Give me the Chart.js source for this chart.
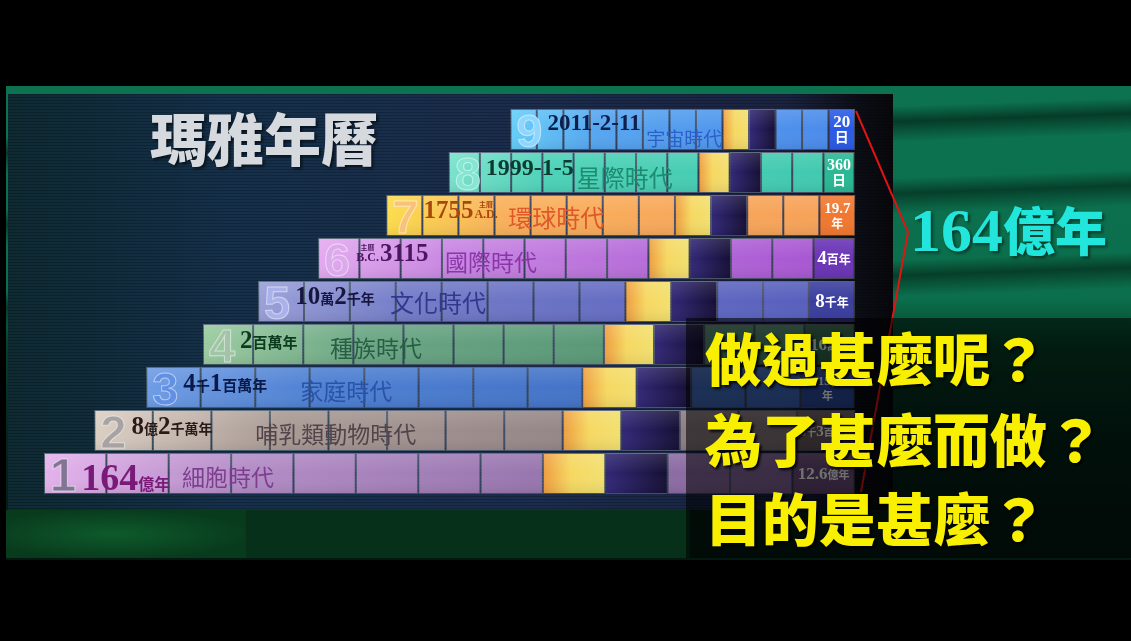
<!DOCTYPE html>
<html>
<head>
<meta charset="utf-8">
<script src="https://cdn.jsdelivr.net/npm/chart.js@4.4.1/dist/chart.umd.min.js"></script>
<style>
html, body { margin: 0; padding: 0; background: #000; width: 1131px; height: 641px; overflow: hidden; }
#stage { position: relative; width: 1131px; height: 641px; }
.abs { position: absolute; }
#video {
  left: 6px; top: 86px; width: 1125px; height: 474px;
  background:
    linear-gradient(178deg, rgba(0,0,0,0) 0%, rgba(0,0,0,0) 10%, rgba(0,15,8,0.55) 13%, rgba(0,0,0,0) 17%,
      rgba(0,0,0,0) 24%, rgba(0,15,8,0.5) 27%, rgba(0,0,0,0) 31%, rgba(0,0,0,0) 40%, rgba(0,15,8,0.5) 43%, rgba(0,0,0,0) 47%),
    linear-gradient(180deg, #0c7250 0%, #0b6e4c 45%, #064028 55%, #04241a 75%, #03180f 100%);
}
#bottomLeft { left: 6px; top: 510px; width: 240px; height: 48px; background: radial-gradient(ellipse at 45% 50%, #0e5a2c, #083a1c 75%); }
#bottomMid { left: 246px; top: 510px; width: 444px; height: 48px; background: #06301a; }
#panel {
  left: 8px; top: 94px; width: 885px; height: 416px;
  background:
    repeating-linear-gradient(180deg, rgba(0,0,0,0.22) 0 1px, rgba(0,0,0,0) 1px 3px),
    linear-gradient(90deg, #0e2a32 0%, #15304a 25%, #1b2c4c 60%, #1a2240 88%, #0c0e16 96%, #08080c 100%);
}
#title { left: 150px; top: 106px; font: 900 57px/60px "Noto Sans CJK TC", sans-serif; color: #d6dade; text-shadow: 2px 2px 3px rgba(0,0,0,0.6); white-space: nowrap; }
#total { left: 910px; top: 196px; color: #22e6dc; white-space: nowrap; text-shadow: 2px 2px 3px rgba(0,0,0,0.5); }
#total .num { font: bold 62px/66px "Liberation Serif", serif; }
#total .cjk { font: 900 52px/66px "Noto Sans CJK TC", sans-serif; }
#overlay { left: 686px; top: 318px; width: 445px; height: 240px; background: rgba(0,0,0,0.56); }
.ask { left: 705px; font: 900 57px/60px "Noto Sans CJK TC", sans-serif; color: #f8f000; white-space: nowrap; text-shadow: 2px 2px 3px #000; }
</style>
</head>
<body>
<div id="stage">
  <div id="video" class="abs"></div>
  <div id="bottomLeft" class="abs"></div>
  <div id="bottomMid" class="abs"></div>
  <div id="panel" class="abs"></div>
  <div id="title" class="abs">瑪雅年曆</div>
  <canvas id="chart" class="abs" width="1131" height="641" style="left:0;top:0;"></canvas>
  <svg class="abs" width="1131" height="641" style="left:0;top:0;">
    <polyline points="856,111 908,232 861,492" fill="none" stroke="#e01414" stroke-width="2"/>
  </svg>
  <div id="total" class="abs"><span class="num">164</span><span class="cjk">億年</span></div>
  <div id="overlay" class="abs"></div>
  <div class="abs ask" style="top:326px;">做過甚麼呢？</div>
  <div class="abs ask" style="top:407px;">為了甚麼而做？</div>
  <div class="abs ask" style="top:486px;">目的是甚麼？</div>
</div>

<script>
// rows from top (9) to bottom (1); x axis in % of the longest row
const rowLabels = ['9', '8', '7', '6', '5', '4', '3', '2', '1'];
const rowStart = [57.5, 49.9, 42.2, 33.8, 26.4, 19.6, 12.6, 6.2, 0];
const cellWidth = [3.27, 3.85, 4.45, 5.09, 5.66, 6.18, 6.72, 7.22, 7.69];
const eraNames = ['宇宙時代', '星際時代', '環球時代', '國際時代', '文化時代', '種族時代', '家庭時代', '哺乳類動物時代', '細胞時代'];
const startDates = [
  [['2011-2-11', 23]],
  [['1999-1-5', 24]],
  [['1755', 25], ['主曆|A.D.', 'sup']],
  [['主曆|B.C.', 'sup'], ['3115', 25]],
  [['10', 25], ['萬', 14], ['2', 25], ['千年', 14]],
  [['2', 25], ['百萬年', 15]],
  [['4', 25], ['千', 14], ['1', 25], ['百萬年', 15]],
  [['8', 25], ['億', 14], ['2', 25], ['千萬年', 14]],
  [['164', 38], ['億年', 16]]
];
const heavenLengths = [
  [[['20', 17]], [['日', 14]]],
  [[['360', 16]], [['日', 14]]],
  [[['19.7', 15]], [['年', 12]]],
  [[['4', 19], ['百年', 12]]],
  [[['8', 19], ['千年', 12]]],
  [[['16', 17], ['萬年', 11]]],
  [[['315萬', 13]], [['年', 11]]],
  [[['6', 15], ['千', 10], ['3', 15], ['百萬年', 10]]],
  [[['12.6', 17], ['億年', 11]]]
];

// styles
const rowGrad = [
  ['#66cef8', '#56a6f0', '#4a88ea'],
  ['#7ae2cc', '#4cd2b8', '#40c8ae'],
  ['#fcdc4c', '#f9b05c', '#f6a058'],
  ['#e4aaf0', '#c886e2', '#a452d0'],
  ['#9aa0d8', '#747cc8', '#545cbc'],
  ['#9ccca0', '#6aa684', '#488a6a'],
  ['#6e9ce4', '#4e80d2', '#3a66bc'],
  ['#dcd0c4', '#a89a94', '#82727a'],
  ['#e4b2ec', '#b28cc6', '#7c5e94']
];
const labelColor = ['#2a5ae6', '#2ab894', '#f07830', '#6a34b6', '#3a3e9e', '#2e6a4c', '#2a4aa0', '#6a5a60', '#6a4a7a'];
const digitColor = ['#8fd6ff', '#86e6d2', '#f8c27a', '#dcaaec', '#aab2ea', '#a4c4aa', '#6290e4', '#a8a2a2', '#807694'];
const dateColor = ['#0d1f4a', '#0a3a30', '#a8480e', '#4a1660', '#16163e', '#0c3a1c', '#0a1a48', '#2a1a18', '#7a1a78'];
const eraColor = ['#2c5fc8', '#1f8a70', '#e0582a', '#8a36a8', '#33388c', '#2a5e44', '#2a52a8', '#52444a', '#7e3e90'];
const eraSize = [19, 24, 24, 23, 24, 23, 23, 23, 23];
const eraOffset = [136, 128, 122, 127, 132, 127, 154, 161, 138];
const eraBase = [37, 35, 32, 33, 31, 33, 33, 33, 33];
const dateBase = [21, 23, 23, 23, 23, 24, 24, 24, 37];

const SERIF = '"Liberation Serif", "DejaVu Serif", "Noto Sans CJK TC", serif';
const CJK = '"Noto Sans CJK TC", "Noto Sans CJK SC", sans-serif';

function cellFill(k) {
  return ctx => {
    const chart = ctx.chart;
    const i = ctx.dataIndex;
    if (!chart.chartArea) return rowGrad[i][2];
    const xs = chart.scales.x;
    const c = chart.ctx;
    if (k === 12) return labelColor[i];
    if (k === 8 || k === 9) {
      const a = xs.getPixelForValue(rowStart[i] + k * cellWidth[i]);
      const b = xs.getPixelForValue(rowStart[i] + (k + 1) * cellWidth[i]);
      const g = c.createLinearGradient(a, 0, b, 0);
      if (k === 8) {
        g.addColorStop(0, '#ee9c40');
        g.addColorStop(0.45, '#f6d862');
        g.addColorStop(1, '#f2e070');
      } else {
        g.addColorStop(0, '#322878');
        g.addColorStop(1, '#150f34');
      }
      return g;
    }
    const x0 = xs.getPixelForValue(rowStart[i]);
    const x1 = xs.getPixelForValue(100);
    const g = c.createLinearGradient(x0, 0, x1, 0);
    g.addColorStop(0, rowGrad[i][0]);
    g.addColorStop(0.25, rowGrad[i][1]);
    g.addColorStop(1, rowGrad[i][2]);
    return g;
  };
}

function measureRuns(ctx, runs) {
  let w = 0;
  runs.forEach(r => {
    if (r[1] === 'sup') {
      const p = r[0].split('|');
      ctx.font = `bold 7px ${SERIF}`;
      const w1 = ctx.measureText(p[0]).width;
      ctx.font = `bold 12px ${SERIF}`;
      w += Math.max(w1, ctx.measureText(p[1]).width) + 2;
    } else {
      ctx.font = `bold ${r[1]}px ${SERIF}`;
      w += ctx.measureText(r[0]).width;
    }
  });
  return w;
}

function drawRuns(ctx, x, y, runs) {
  let cx = x;
  runs.forEach(r => {
    if (r[1] === 'sup') {
      const p = r[0].split('|');
      ctx.font = `bold 7px ${SERIF}`;
      const w1 = ctx.measureText(p[0]).width;
      ctx.font = `bold 12px ${SERIF}`;
      const w2 = ctx.measureText(p[1]).width;
      const w = Math.max(w1, w2);
      ctx.fillText(p[1], cx + 1, y);
      ctx.font = `bold 7px ${SERIF}`;
      ctx.fillText(p[0], cx + 1 + (w - w1) / 2, y - 11);
      cx += w + 2;
    } else {
      ctx.font = `bold ${r[1]}px ${SERIF}`;
      ctx.fillText(r[0], cx, y);
      cx += ctx.measureText(r[0]).width;
    }
  });
  return cx;
}

const rowText = {
  id: 'rowText',
  afterDatasetsDraw(chart) {
    const ctx = chart.ctx;
    const first = chart.getDatasetMeta(1).data;
    const last = chart.getDatasetMeta(13).data;
    ctx.save();
    ctx.textBaseline = 'alphabetic';
    rowLabels.forEach((lab, i) => {
      const el = first[i];
      const left = el.base;
      const top = el.y - el.height / 2;

      // soft highlight on the upper half of the row
      const hg = ctx.createLinearGradient(0, top, 0, top + el.height);
      hg.addColorStop(0, 'rgba(255,255,255,0.12)');
      hg.addColorStop(0.5, 'rgba(255,255,255,0)');
      hg.addColorStop(1, 'rgba(0,0,0,0.08)');
      ctx.fillStyle = hg;
      ctx.fillRect(left, top, last[i].x - left, el.height);

      // big row number
      ctx.font = 'bold 47px "Liberation Sans", "DejaVu Sans", sans-serif';
      ctx.fillStyle = digitColor[i];
      ctx.fillText(lab, left + 6, top + el.height - 3);
      ctx.strokeStyle = 'rgba(255,255,255,0.5)';
      ctx.lineWidth = 1;
      ctx.strokeText(lab, left + 6, top + el.height - 3);
      const dx = left + 6 + ctx.measureText(lab).width + 5;

      // starting date
      ctx.fillStyle = dateColor[i];
      drawRuns(ctx, dx, top + dateBase[i], startDates[i]);

      // era name
      ctx.font = `${eraSize[i]}px ${CJK}`;
      ctx.fillStyle = eraColor[i];
      ctx.fillText(eraNames[i], left + eraOffset[i], top + eraBase[i]);

      // heaven length in the last cell
      const lc = last[i];
      const cx = (lc.base + lc.x) / 2;
      const lines = heavenLengths[i];
      ctx.fillStyle = '#ffffff';
      const lineH = 15;
      const y0 = el.y - (lines.length - 1) * lineH / 2 + 5;
      lines.forEach((runs, j) => {
        const w = measureRuns(ctx, runs);
        drawRuns(ctx, cx - w / 2, y0 + j * lineH, runs);
      });
    });
    ctx.restore();
  }
};

const datasets = [{
  data: rowStart,
  backgroundColor: 'rgba(0,0,0,0)',
  borderWidth: 0,
  barPercentage: 0.955,
  categoryPercentage: 1
}];
for (let k = 0; k < 13; k++) {
  datasets.push({
    data: cellWidth,
    backgroundColor: cellFill(k),
    borderColor: 'rgba(255,255,255,0.24)',
    borderWidth: 1,
    borderSkipped: false,
    barPercentage: 0.955,
    categoryPercentage: 1
  });
}

new Chart(document.getElementById('chart').getContext('2d'), {
  type: 'bar',
  data: { labels: rowLabels, datasets: datasets },
  options: {
    indexAxis: 'y',
    responsive: false,
    animation: false,
    devicePixelRatio: 1,
    layout: { padding: { left: 44, right: 276, top: 108, bottom: 146 } },
    plugins: { legend: { display: false }, tooltip: { enabled: false } },
    scales: {
      x: { stacked: true, min: 0, max: 100, display: false },
      y: { stacked: true, display: false }
    }
  },
  plugins: [rowText]
});
</script>
</body>
</html>
